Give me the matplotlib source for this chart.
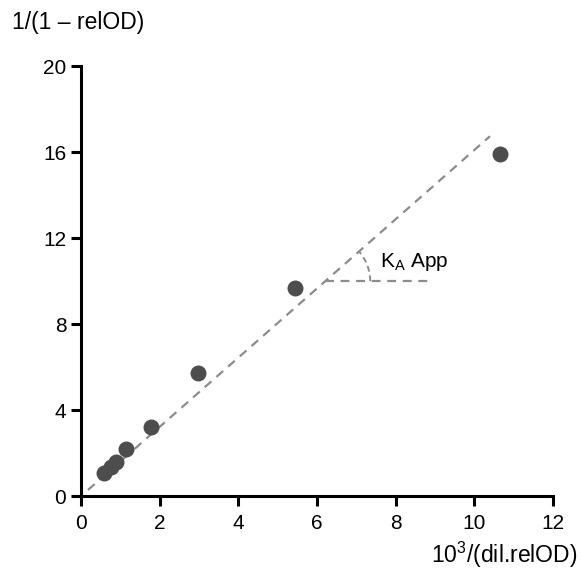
import numpy as np
import matplotlib
matplotlib.use("Agg")
import matplotlib.pyplot as plt

plt.rcParams["font.family"] = ["Liberation Sans", "DejaVu Sans"]

# data
x_vals = [0.58, 0.76, 0.89, 1.14, 1.78, 2.97, 5.44, 10.65]
y_vals = [1.07, 1.35, 1.58, 2.19, 3.21, 5.72, 9.67, 15.9]

fit_slope = 1.61
fit_x = [0.18, 10.4]
x_ticks = [0, 2, 4, 6, 8, 10, 12]
y_ticks = [0, 4, 8, 12, 16, 20]

fig = plt.figure(figsize=(5.82, 5.81), dpi=100)
ax = fig.add_axes([0.139, 0.146, 0.811, 0.740])

fx = np.array(fit_x)
ax.plot(fx, fit_slope * fx, ls=(0, (4, 3)), color="#8c8c8c", lw=1.6, zorder=1)
ax.plot(x_vals, y_vals, "o", ms=11.5, color="#4d4d4d", mec="none", zorder=3)

# angle marker for K_A App
y_h = 10.0
x0 = y_h / fit_slope
ax.plot([x0, 8.87], [y_h, y_h], ls=(0, (4, 3)), color="#8c8c8c", lw=1.6)
# arc drawn in pixel space so it looks round
sx = 472 / 12.0
sy = 430 / 20.0
theta = np.arctan(fit_slope * sy / sx)
t = np.linspace(0, theta, 20)
r = 45
ax.plot(x0 + r * np.cos(t) / sx, y_h + r * np.sin(t) / sy,
        ls=(0, (3, 2)), color="#8c8c8c", lw=1.4)
ax.text(7.6, 10.9, r"K$_\mathregular{A}$ App", fontsize=15, va="center", ha="left")

ax.set_xlim(0, 12)
ax.set_ylim(0, 20)
ax.set_xticks(x_ticks)
ax.set_yticks(y_ticks)
for s in ["top", "right"]:
    ax.spines[s].set_visible(False)
for s in ["left", "bottom"]:
    ax.spines[s].set_linewidth(2.2)
ax.tick_params(width=2.2, length=7, labelsize=15, direction="out")
ax.tick_params(axis="x", pad=6)

fig.text(0.02, 0.962, "1/(1 \u2013 relOD)", fontsize=16.5, ha="left", va="center")
fig.text(0.992, 0.045, "10$^\\mathregular{3}$/(dil.relOD)", fontsize=16.5, ha="right", va="center")

fig.savefig("out.png", dpi=100)
